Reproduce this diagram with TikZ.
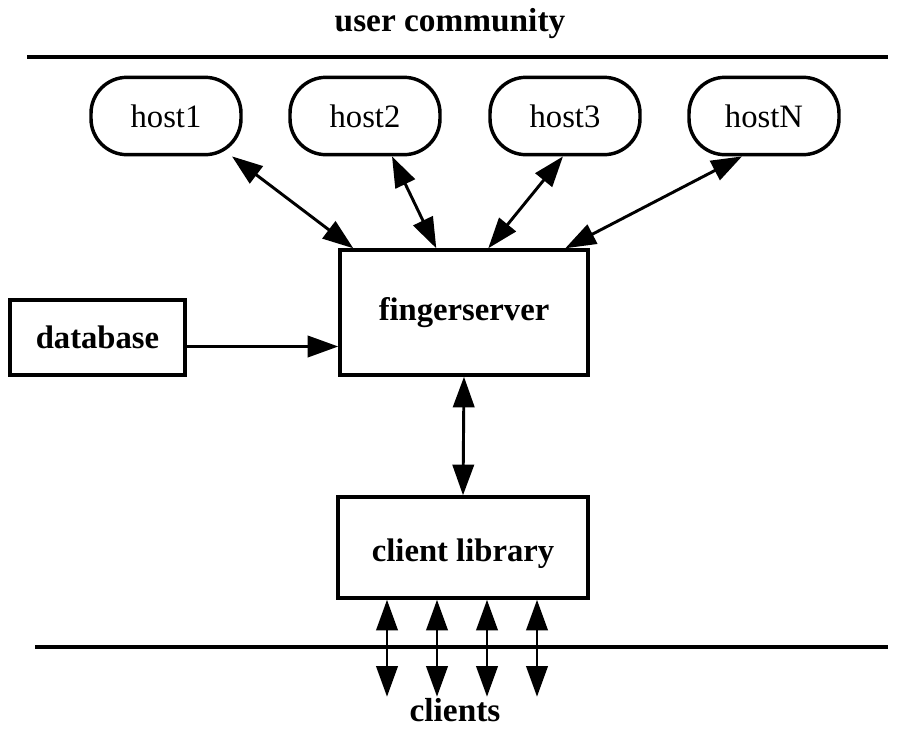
\documentclass[tikz,border=0pt]{standalone}
\usepackage{fontspec}
\setmainfont{Liberation Serif}
\usetikzlibrary{arrows.meta,calc}
\begin{document}
\begin{tikzpicture}[x=0.75pt,y=-0.75pt,
  boxline/.style={line width=2.6pt},
  hostbox/.style={draw,boxline,rounded corners=27pt,minimum width=112.5pt,minimum height=58pt,inner sep=0pt,font=\fontsize{24.5}{28}\selectfont},
  plainbox/.style={draw,boxline,inner sep=0pt,font=\bfseries\fontsize{24.5}{28}\selectfont},
  lbl/.style={font=\bfseries\fontsize{25}{28}\selectfont,inner sep=0pt},
  conn/.style={line width=2.2pt,-{Triangle[length=23pt,width=16pt]}},
  dconn/.style={line width=2.2pt,{Triangle[length=23pt,width=16pt]}-{Triangle[length=23pt,width=16pt]}},
  sepline/.style={line width=2.6pt}]
\useasboundingbox (0,0) rectangle (902,728);
% title and top line
\node[lbl] (uc) at (450,24) {user community};
\coordinate (tl) at (27,57);
\coordinate (tr) at (888,57);
\draw[sepline] (tl) -- (tr);
% hosts
\node[hostbox] (host1) at (166,116) {host1};
\node[hostbox] (host2) at (365,116) {host2};
\node[hostbox] (host3) at (565,116) {host3};
\node[hostbox] (hostN) at (764,116) {hostN};
% main boxes
\node[plainbox,minimum width=186pt,minimum height=93.75pt] (fs) at (464,312.5) {fingerserver};
\node[plainbox,minimum width=131.25pt,minimum height=56.25pt] (db) at (97.5,337.5) {database};
\node[plainbox,minimum width=187.5pt,minimum height=75.75pt,text depth=0pt] (cl) at (463,547.5) {\raisebox{-4pt}{client library}};
% host arrows
\draw[dconn] ($(host1.south)+(66,0)$) -- ($(fs.north west)+(15,0)$);
\draw[dconn] ($(host2.south)+(27,0)$) -- ($(fs.north west)+(98,0)$);
\draw[dconn] ($(host3.south)+(-2,0)$) -- ($(fs.north west)+(150,0)$);
\draw[dconn] ($(hostN.south)+(-22,0)$) -- ($(fs.north west)+(227,0)$);
% database arrow
\coordinate (dbo) at ($(db.east)+(0,9)$);
\draw[conn] (dbo) -- (dbo -| fs.west);
% fingerserver - client library
\draw[dconn] (fs.south) -- (cl.south |- cl.north);
% bottom line
\coordinate (bl) at (35,647);
\coordinate (br) at (888,647);
\draw[sepline] (bl) -- (br);
% client arrows
\coordinate (c1) at ($(cl.south)+(-76,97)$);
\coordinate (c2) at ($(cl.south)+(-26,97)$);
\coordinate (c3) at ($(cl.south)+(24,97)$);
\coordinate (c4) at ($(cl.south)+(74,97)$);
\draw[dconn] (c1 |- cl.south) -- (c1);
\draw[dconn] (c2 |- cl.south) -- (c2);
\draw[dconn] (c3 |- cl.south) -- (c3);
\draw[dconn] (c4 |- cl.south) -- (c4);
\node[lbl] (clients) at (455,710) {clients};
\end{tikzpicture}
\end{document}
